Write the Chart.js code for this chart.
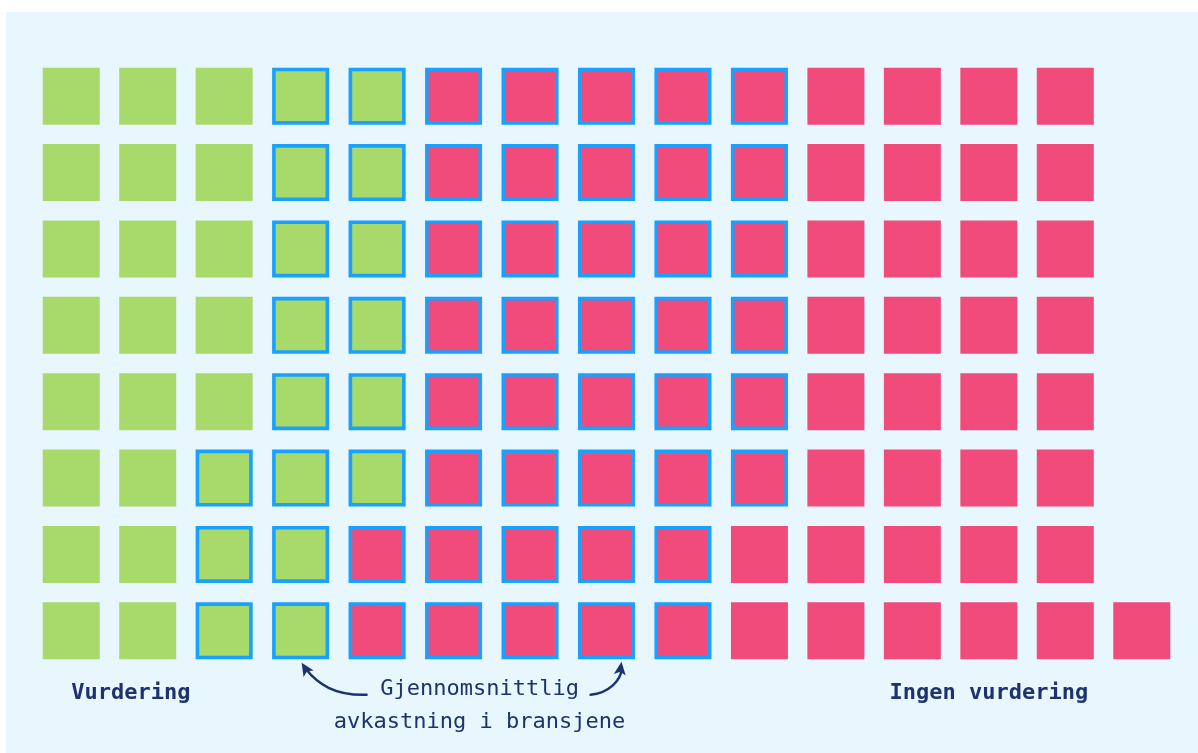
<!DOCTYPE html>
<html>
<head>
<meta charset="utf-8">
<script src="https://cdn.jsdelivr.net/npm/chart.js@4/dist/chart.umd.min.js"></script>
<style>
  html, body { margin: 0; padding: 0; background: #ffffff; }
  #wrap { width: 1198px; height: 753px; }
</style>
</head>
<body>
<div id="wrap"><canvas id="waffle"></canvas></div>
<script>
// one square per company, filled column by column from the top
const categories = ['Vurdering', 'Ingen vurdering'];
const counts = [38, 75];
const categoryColors = ['#a8d96b', '#f04b7b'];
const labelColumns = [0.78, 12];

// squares with outline: the average return in the industries
const highlightLabel = ['Gjennomsnittlig', 'avkastning i bransjene'];
const highlightRange = [21, 77];

const rowsPerColumn = 8;

const total = counts.reduce((a, b) => a + b, 0);
const fullColumns = Math.floor(total / rowsPerColumn);
const lastColumnSize = total % rowsPerColumn;

function cellFor(i) {
    const col = Math.floor(i / rowsPerColumn);
    let row = i % rowsPerColumn;
    // a short last column sits on the bottom row
    if (col === fullColumns) row += rowsPerColumn - lastColumnSize;
    return { x: col, y: row, idx: i };
}

let start = 0;
const datasets = categories.map((name, k) => {
    const points = [];
    for (let i = start; i < start + counts[k]; i++) points.push(cellFor(i));
    start += counts[k];
    return {
        label: name,
        data: points,
        pointStyle: 'rect',
        backgroundColor: categoryColors[k],
        borderColor: '#1aa0fd'
    };
});

const isHighlighted = ctx => {
    const idx = ctx.raw ? ctx.raw.idx : -1;
    return idx >= highlightRange[0] && idx <= highlightRange[1];
};

const navy = '#1c3370';

const panel = {
    id: 'panel',
    beforeDraw(chart) {
        const c = chart.ctx;
        c.save();
        c.fillStyle = '#ffffff';
        c.fillRect(0, 0, chart.width, chart.height);
        c.fillStyle = '#e8f6fd';
        c.fillRect(6, 12, chart.width - 6, chart.height - 12);
        c.restore();
    }
};

function arrowHead(c, tipX, tipY, angle) {
    const len = 13, half = 6;
    c.save();
    c.translate(tipX, tipY);
    c.rotate(angle);
    c.beginPath();
    c.moveTo(0, 0);
    c.lineTo(-len, -half);
    c.lineTo(-len + 3, 0);
    c.lineTo(-len, half);
    c.closePath();
    c.fill();
    c.restore();
}

const annotations = {
    id: 'annotations',
    afterDraw(chart) {
        const c = chart.ctx;
        const xs = chart.scales.x, ys = chart.scales.y;
        const base = ys.getPixelForValue(rowsPerColumn - 1);
        const textY = base + 67;

        c.save();
        c.fillStyle = navy;
        c.strokeStyle = navy;
        c.textAlign = 'center';
        c.textBaseline = 'alphabetic';

        c.font = 'bold 22px "DejaVu Sans Mono"';
        categories.forEach((name, k) => {
            c.fillText(name, xs.getPixelForValue(labelColumns[k]), textY + 1);
        });

        c.font = '22px "DejaVu Sans Mono"';
        const midX = xs.getPixelForValue(5.34);
        c.fillText(highlightLabel[0], midX, textY - 3);
        c.fillText(highlightLabel[1], midX, textY + 30);

        // curved arrows from the label up to the outlined squares
        c.lineWidth = 2.5;
        c.lineCap = 'round';
        const lTip = { x: xs.getPixelForValue(3) + 1, y: base + 32 };
        c.beginPath();
        c.moveTo(midX - 113, textY - 3);
        c.bezierCurveTo(midX - 145, textY - 2, midX - 162, textY - 14, lTip.x + 4, lTip.y + 6);
        c.stroke();
        arrowHead(c, lTip.x, lTip.y, Math.atan2(-11, -7));

        const rTip = { x: xs.getPixelForValue(7) + 15, y: base + 31 };
        c.beginPath();
        c.moveTo(midX + 111, textY - 3);
        c.bezierCurveTo(midX + 130, textY - 5, midX + 141, textY - 18, rTip.x, rTip.y + 8);
        c.stroke();
        arrowHead(c, rTip.x, rTip.y, Math.atan2(-11, 1.5));
        c.restore();
    }
};

new Chart(document.getElementById('waffle'), {
    type: 'scatter',
    data: { datasets },
    options: {
        responsive: true,
        maintainAspectRatio: false,
        animation: false,
        layout: {
            autoPadding: false,
            padding: { left: 33, right: 18, top: 58, bottom: 84 }
        },
        elements: {
            point: {
                radius: ctx => isHighlighted(ctx) ? 37.8 : 40.3,
                hoverRadius: ctx => isHighlighted(ctx) ? 37.8 : 40.3,
                borderWidth: ctx => isHighlighted(ctx) ? 3.6 : 0,
                hoverBorderWidth: ctx => isHighlighted(ctx) ? 3.6 : 0
            }
        },
        scales: {
            x: { type: 'linear', min: -0.5, max: fullColumns + 0.5, display: false },
            y: { type: 'linear', min: -0.5, max: rowsPerColumn - 0.5, reverse: true, display: false }
        },
        plugins: {
            legend: { display: false },
            tooltip: { enabled: false }
        }
    },
    plugins: [panel, annotations]
});
</script>
</body>
</html>
